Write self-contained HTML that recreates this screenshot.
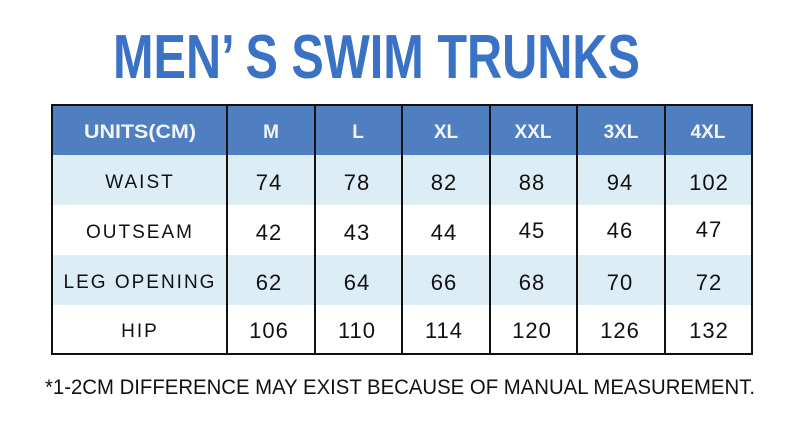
<!DOCTYPE html>
<html><head><meta charset="utf-8"><style>
html,body{margin:0;padding:0;background:#fff;}
svg{display:block}
text{font-family:"Liberation Sans",sans-serif;}
</style></head><body>
<svg width="800" height="429" viewBox="0 0 800 429" xmlns="http://www.w3.org/2000/svg">
<rect width="800" height="429" fill="#fff"/>
<text x="113" y="78" font-size="62" font-weight="bold" fill="#3a72c6" textLength="527" lengthAdjust="spacingAndGlyphs">MEN’ S SWIM TRUNKS</text>
<rect x="52" y="105" width="700" height="50" fill="#4f7fc0"/>
<rect x="52" y="155" width="700" height="50" fill="#dcedf5"/>
<rect x="52" y="255" width="700" height="50" fill="#dcedf5"/>
<g stroke="#111" stroke-width="2" fill="none">
<rect x="52" y="105" width="700" height="249"/>
<line x1="227" y1="105" x2="227" y2="354"/>
<line x1="315" y1="105" x2="315" y2="354"/>
<line x1="402" y1="105" x2="402" y2="354"/>
<line x1="490" y1="105" x2="490" y2="354"/>
<line x1="577" y1="105" x2="577" y2="354"/>
<line x1="665" y1="105" x2="665" y2="354"/>
</g>
<g font-size="19" font-weight="bold" fill="#f2f6fb" text-anchor="middle">
<text x="140" y="138" textLength="112" lengthAdjust="spacingAndGlyphs">UNITS(CM)</text>
<text x="271" y="138">M</text>
<text x="358" y="138">L</text>
<text x="446" y="138">XL</text>
<text x="533" y="138">XXL</text>
<text x="621" y="138">3XL</text>
<text x="708" y="138">4XL</text>
</g>
<g font-size="19" fill="#111" text-anchor="middle" letter-spacing="2">
<text x="140" y="188">WAIST</text>
<text x="140" y="238">OUTSEAM</text>
<text x="140" y="288">LEG OPENING</text>
<text x="140" y="337">HIP</text>
</g>
<g font-size="22" fill="#111" text-anchor="middle" letter-spacing="1">
<text x="269" y="190">74</text><text x="357" y="190">78</text><text x="444" y="190">82</text><text x="532" y="190">88</text><text x="620" y="190">94</text><text x="709" y="190">102</text>
<text x="269" y="240">42</text><text x="357" y="240">43</text><text x="444" y="240">44</text><text x="532" y="238">45</text><text x="620" y="238">46</text><text x="709" y="237">47</text>
<text x="269" y="290">62</text><text x="357" y="290">64</text><text x="444" y="290">66</text><text x="532" y="290">68</text><text x="620" y="290">70</text><text x="709" y="290">72</text>
<text x="269" y="338">106</text><text x="357" y="338">110</text><text x="444" y="338">114</text><text x="532" y="338">120</text><text x="620" y="338">126</text><text x="709" y="338">132</text>
</g>
<text x="45" y="394" font-size="21" fill="#111" textLength="710" lengthAdjust="spacingAndGlyphs">*1-2CM DIFFERENCE MAY EXIST BECAUSE OF MANUAL MEASUREMENT.</text>
</svg>
</body></html>
